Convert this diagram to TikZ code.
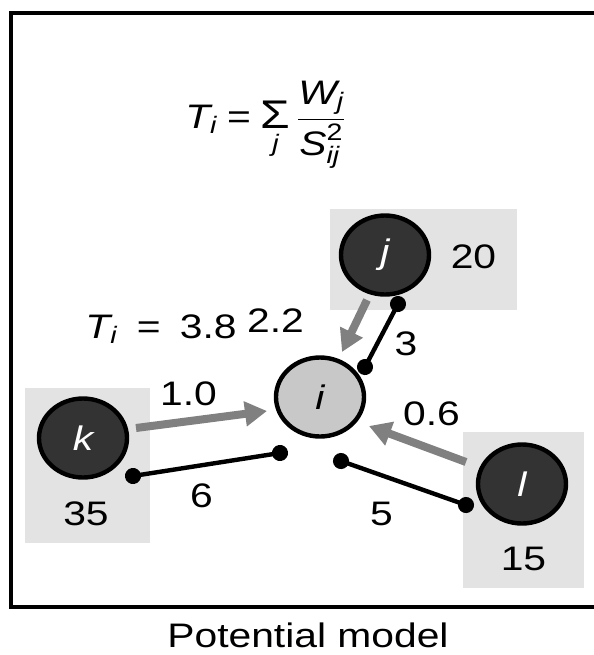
\documentclass[tikz,border=0pt]{standalone}
\usepackage{amsmath}
\usepackage{fontspec}
\setmainfont{Liberation Sans}[FakeStretch=1.2]
\usetikzlibrary{arrows.meta,shapes.geometric}
\definecolor{boxgray}{HTML}{E3E3E3}
\definecolor{nodedark}{HTML}{333333}
\definecolor{nodelight}{HTML}{C8C8C8}
\definecolor{arrowgray}{HTML}{808080}
\begin{document}
\begin{tikzpicture}[x=0.5pt,y=-0.5pt,
  txt/.style={font=\fontsize{17}{20}\selectfont, inner sep=0pt},
  greybox/.style={rectangle, fill=boxgray, draw=none, inner sep=0pt},
  darknode/.style={ellipse, draw=black, line width=2.2pt, fill=nodedark,
    minimum width=44pt, minimum height=39.5pt, inner sep=0pt, text=white,
    font=\fontsize{17}{20}\selectfont\itshape},
  lightnode/.style={darknode, fill=nodelight, text=black},
  flow/.style={color=arrowgray, line width=4pt, -{Triangle[length=11pt,width=12pt]}},
  dist/.style={color=black, line width=2.2pt, {Circle[length=8pt]}-{Circle[length=8pt]},
    shorten <=-4pt, shorten >=-4pt}]
\useasboundingbox (0,0) rectangle (594,655);
% frame
\draw[line width=1.8pt] (594,13) -- (11,13) -- (11,607) -- (594,607);
% formula
\node[txt, anchor=base] (formula) at (266,128)
  {$\displaystyle \text{\itshape T}_{\text{\itshape i}} \mathrel{\text{=}}
   \mathop{\mbox{\fontsize{20}{22}\selectfont Σ}}\limits_{\text{\itshape j}}
   \frac{\text{\itshape W}_{\text{\itshape j}}}{\text{\itshape S}_{\text{\itshape ij}}^{\text{2}}}$};
% grey boxes
\node[greybox, minimum width=93.5pt, minimum height=50.5pt] (boxj) at (423.5,259.5) {};
\node[greybox, minimum width=62.5pt, minimum height=77.5pt] (boxk) at (87.5,465.5) {};
\node[greybox, minimum width=60.5pt, minimum height=78pt] (boxl) at (523.5,510) {};
% nodes
\node[darknode] (j) at (385,255) {j};
\node[darknode] (k) at (83,438) {k};
\node[darknode] (l) at (522,484) {l};
\node[lightnode] (i) at (320,397) {i};
% weights
\node[txt, anchor=base] (wj) at (473.5,268) {20};
\node[txt, anchor=base] (wk) at (86,525) {35};
\node[txt, anchor=base] (wl) at (523.5,570) {15};
% potential
\node[txt, anchor=base] (ti) at (161,338)
  {$\text{\itshape T}_{\text{\itshape i}} \mathrel{\;\text{=}\;} \text{3.8}$};
% arrow end points
\coordinate (ka) at (136,428); \coordinate (ia1) at (267,411);
\coordinate (ja) at (367,300); \coordinate (ia2) at (342,352);
\coordinate (la) at (466,462); \coordinate (ia3) at (369,426);
\draw[flow] (ka) -- (ia1);
\draw[flow] (ja) -- (ia2);
\draw[flow] (la) -- (ia3);
% distance end points
\coordinate (kd) at (133,476); \coordinate (id1) at (280,453);
\coordinate (jd) at (398,304); \coordinate (id2) at (365,367);
\coordinate (ld) at (466,505); \coordinate (id3) at (341,461);
\draw[dist] (kd) -- (id1);
\draw[dist] (jd) -- (id2);
\draw[dist] (ld) -- (id3);
% labels
\node[txt, anchor=base] (f1) at (188.5,405) {1.0};
\node[txt, anchor=base] (f2) at (275.5,332) {2.2};
\node[txt, anchor=base] (f3) at (431.5,425) {0.6};
\node[txt, anchor=base] (d1) at (201.5,507) {6};
\node[txt, anchor=base] (d2) at (406,355) {3};
\node[txt, anchor=base] (d3) at (381.5,525) {5};
% caption
\node[txt, anchor=base] (cap) at (308,647) {Potential model};
\end{tikzpicture}
\end{document}
